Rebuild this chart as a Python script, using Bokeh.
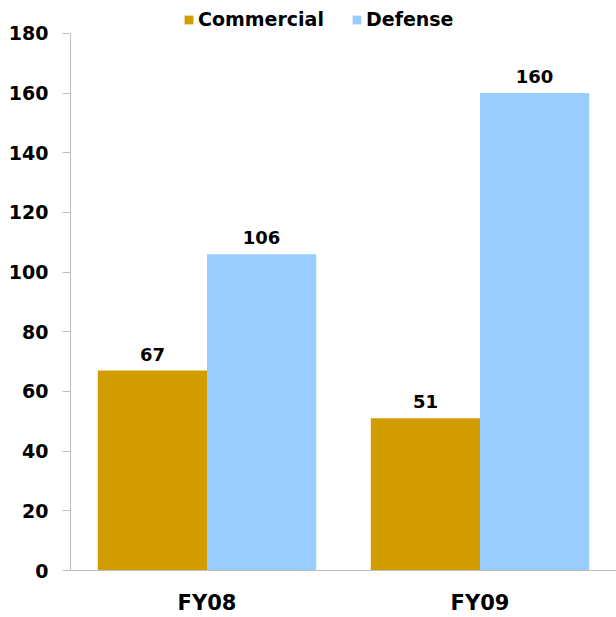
from bokeh.plotting import figure
from bokeh.models import ColumnDataSource, FactorRange, Legend, LegendItem, LabelSet, Range1d, FixedTicker
from bokeh.transform import dodge
from bokeh.core.properties import value
from bokeh.embed import file_html
from bokeh.resources import INLINE

categories = ["FY08", "FY09"]
commercial = [67, 51]
defense = [106, 160]
y_ticks = [0, 20, 40, 60, 80, 100, 120, 140, 160, 180]

GOLD = "#D29D00"
BLUE = "#99CCFF"
AXIS = "#BFBFBF"
FONT = "DejaVu Sans"

src = ColumnDataSource(dict(
    cat=categories,
    commercial=commercial,
    defense=defense,
    commercial_lbl=[str(v) for v in commercial],
    defense_lbl=[str(v) for v in defense],
))

# extra headroom above 180 so the legend sits inside the frame; axis line stops at 180
p = figure(x_range=FactorRange(*categories, range_padding=0),
           y_range=Range1d(0, 190),
           width=616, height=617,
           output_backend="svg", toolbar_location=None,
           min_border_left=70, min_border_right=0,
           min_border_top=3, min_border_bottom=46)

r1 = p.vbar(x=dodge("cat", -0.2, range=p.x_range), top="commercial", width=0.4,
            source=src, fill_color=GOLD, line_color=None)
r2 = p.vbar(x=dodge("cat", 0.2, range=p.x_range), top="defense", width=0.4,
            source=src, fill_color=BLUE, line_color=None)

for field, off in (("commercial", -0.2), ("defense", 0.2)):
    p.add_layout(LabelSet(x=dodge("cat", off, range=p.x_range), y=field,
                          text=field + "_lbl", source=src, y_offset=10,
                          text_align="center", text_baseline="bottom",
                          text_font=value(FONT), text_font_style="bold",
                          text_font_size="18px", text_color="black"))

p.xgrid.grid_line_color = None
p.ygrid.grid_line_color = None
p.outline_line_color = None
p.background_fill_color = "white"
p.border_fill_color = "white"

p.yaxis.ticker = FixedTicker(ticks=y_ticks)
p.yaxis.bounds = (y_ticks[0], y_ticks[-1])
p.yaxis.minor_tick_line_color = None
p.yaxis.major_tick_in = 0
p.yaxis.major_tick_out = 8
p.yaxis.major_tick_line_color = AXIS
p.yaxis.axis_line_color = AXIS
p.yaxis.major_label_standoff = 14
p.yaxis.major_label_text_font = FONT
p.yaxis.major_label_text_font_style = "bold"
p.yaxis.major_label_text_font_size = "19px"
p.yaxis.major_label_text_color = "black"

p.xaxis.axis_line_color = AXIS
p.xaxis.major_tick_line_color = None
p.xaxis.major_tick_out = 0
p.xaxis.major_tick_in = 0
p.xaxis.major_label_standoff = 20
p.xaxis.major_label_text_font = FONT
p.xaxis.major_label_text_font_style = "bold"
p.xaxis.major_label_text_font_size = "21px"
p.xaxis.major_label_text_color = "black"

legend = Legend(items=[LegendItem(label="Commercial", renderers=[r1]),
                       LegendItem(label="Defense", renderers=[r2])],
                orientation="horizontal", location=(113, 540),
                glyph_width=11, glyph_height=11, label_standoff=4, spacing=27,
                label_height=22,
                padding=0, margin=0, border_line_color=None,
                background_fill_alpha=0,
                label_text_font=FONT, label_text_font_style="bold",
                label_text_font_size="19px", label_text_color="black")
p.add_layout(legend, "center")

open("out.html", "w").write(file_html(p, INLINE))
